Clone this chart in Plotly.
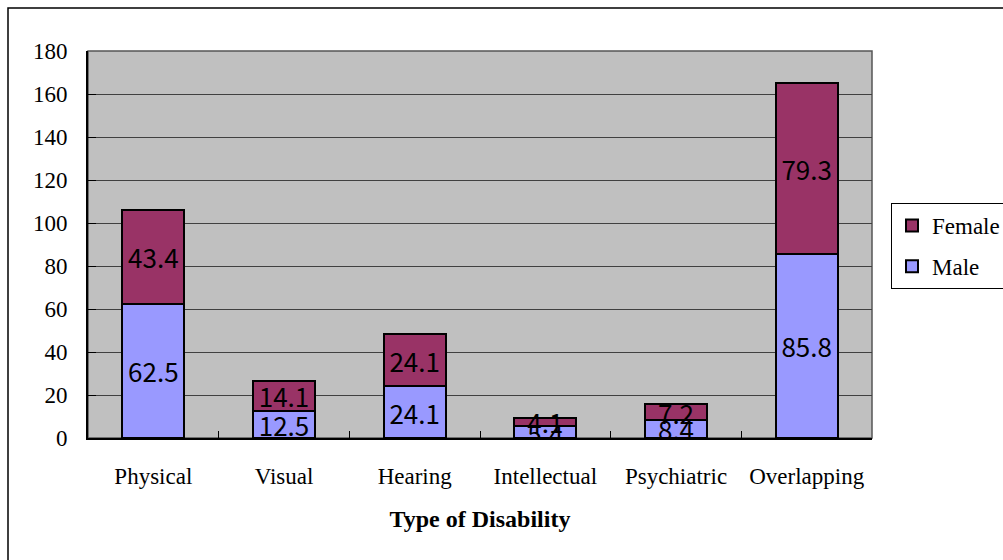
import plotly.graph_objects as go

categories = ["Physical", "Visual", "Hearing", "Intellectual", "Psychiatric", "Overlapping"]
male = [62.5, 12.5, 24.1, 5.4, 8.4, 85.8]
female = [43.4, 14.1, 24.1, 4.1, 7.2, 79.3]
y_ticks = [0, 20, 40, 60, 80, 100, 120, 140, 160, 180]

serif = "Liberation Serif, Times New Roman, serif"
sans = "Noto Sans CJK JP, DejaVu Sans, sans-serif"

fig = go.Figure()
fig.add_trace(go.Bar(
    name="Male", x=categories, y=male, legendgroup="m", legendrank=2,
    marker=dict(color="#9999FF", line=dict(color="black", width=2)),
    text=[f"{v:.1f}" for v in male], textposition="inside",
    insidetextanchor="middle", textangle=0,
    textfont=dict(family=sans, size=26, color="black"),
))
fig.add_trace(go.Bar(
    name="Female", x=categories, y=female, legendgroup="f", legendrank=1,
    marker=dict(color="#993366", line=dict(color="black", width=2)),
    text=[f"{v:.1f}" for v in female], textposition="inside",
    insidetextanchor="middle", textangle=0,
    textfont=dict(family=sans, size=26, color="black"),
))

L, R, T, B = 88, 131, 51, 122
W, H = 1003, 560
pw, ph = W - L - R, H - T - B

fig.update_layout(
    width=W, height=H,
    margin=dict(l=L, r=R, t=T, b=B, autoexpand=False),
    barmode="stack", bargap=0.525,
    paper_bgcolor="white", plot_bgcolor="#C0C0C0",
    uniformtext=dict(minsize=26, mode="show"),
    showlegend=True,
    legend=dict(
        x=(891 - L) / pw, xanchor="left",
        y=(H - B - 203) / ph, yanchor="top",
        traceorder="grouped",
        bordercolor="black", borderwidth=1, bgcolor="white",
        font=dict(family=serif, size=23, color="black"),
        itemwidth=30, tracegroupgap=8,
    ),
    font=dict(family=serif, color="black"),
    shapes=[
        dict(type="rect", xref="paper", yref="paper",
             x0=0, x1=1, y0=0, y1=1, line=dict(color="#555555", width=1.5), layer="below"),
        dict(type="rect", xref="paper", yref="paper",
             x0=(8 - L) / pw, x1=(1010 - L) / pw,
             y0=(H - B - 570) / ph, y1=(H - B - 8) / ph,
             line=dict(color="black", width=1.5)),
    ],
)
fig.update_xaxes(
    showline=True, linecolor="black", linewidth=2,
    ticks="inside", tickson="boundaries", ticklen=7, tickcolor="black", tickwidth=1,
    tickfont=dict(family=serif, size=23, color="black"),
    ticklabelstandoff=16,
    title=dict(text="<b>Type of Disability</b>", font=dict(family=serif, size=24, color="black"), standoff=23),
)
fig.update_yaxes(
    range=[0, 180], tickvals=y_ticks,
    showline=True, linecolor="black", linewidth=2,
    ticks="inside", ticklen=8, tickcolor="black", tickwidth=1,
    showgrid=True, gridcolor="#404040", gridwidth=1,
    zeroline=False,
    tickfont=dict(family=serif, size=23, color="black"),
    ticklabelstandoff=14,
)

fig.write_html("out.html")
